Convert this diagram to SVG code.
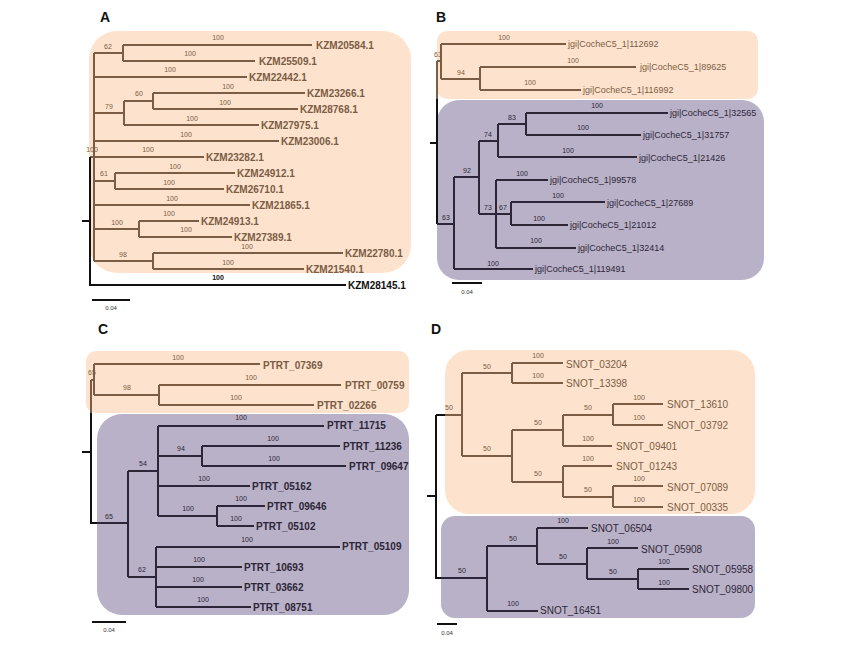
<svg xmlns="http://www.w3.org/2000/svg" width="850" height="655" viewBox="0 0 850 655">
<style>
text{font-family:"Liberation Sans",Arial,sans-serif}
.bo{fill:#fde3cd}
.pu{fill:#b9b1c7}
.lb{stroke:#7b5c45;stroke-width:2;fill:none}
.lp{stroke:#2d2638;stroke-width:2;fill:none}
.lk{stroke:#111;stroke-width:2;fill:none}
.bs{font-size:7px;text-anchor:middle}
.sb{fill:#7b5c45}
.sp{fill:#2d2638}
.sk{fill:#111}
.ta{font-size:10px;font-weight:bold}
.tb{font-size:9px}
.td{font-size:10px}
.pl{font-size:14px;font-weight:bold;fill:#111}
.sc{font-size:6px;fill:#333;text-anchor:middle}
</style>
<rect width="850" height="655" fill="#fff"/>
<g id="boxes">
<rect class="bo" x="89" y="31" width="322" height="242" rx="28"/>
<rect class="bo" x="437" y="31" width="321" height="68" rx="10"/>
<rect class="pu" x="437" y="100" width="327" height="180" rx="22"/>
<rect class="bo" x="86" y="351" width="323" height="62" rx="10"/>
<rect class="pu" x="97" y="414" width="312" height="201" rx="25"/>
<rect class="bo" x="445" y="350" width="310" height="164" rx="24"/>
<rect class="pu" x="441" y="516" width="314" height="102" rx="14"/>
</g>
<g id="panel-letters">
<text class="pl" x="100" y="22">A</text>
<text class="pl" x="436" y="22">B</text>
<text class="pl" x="98" y="334">C</text>
<text class="pl" x="431" y="334">D</text>
</g>
<g id="connectors">
<path class="lb" d="M94 53V261M94 53H123M123 45V61M123 45H312M123 61H255M94 77H247M94 113H124M124 101V125M124 101H153M153 93V109M153 93H305M153 109H298M124 125H259M94 141H279M90 157H204M94 181H115M115 173V189M115 173H235M115 189H224M94 205H250M94 229H139M139 221V237M139 221H199M139 237H232M94 261H153M153 253V269M153 253H343M153 269H304"/>
<path class="lk" d="M90 157V285H346M82 221H90"/>
<path class="lb" d="M437 61V99M437 61H441M441 44V79M441 44H566M441 79H480M480 67V90M480 67H636M480 90H581"/>
<path class="lk" d="M437 99V224M430 143H437"/>
<path class="lp" d="M437 224H454M454 177V269M454 177H479M454 269H533M479 141V214M479 141H498M479 214H496M498 124V157M498 124H526M498 157H637M526 113V135M526 113H668M526 135H641M496 180V248M496 180H548M496 214H511M511 202V225M511 202H605M511 225H568M496 248H576"/>
<path class="lb" d="M91 380V413M91 380H94M94 364V395M94 364H260M94 395H159M159 385V405M159 385H341M159 405H314"/>
<path class="lk" d="M91 413V523H97M82 452H91"/>
<path class="lp" d="M97 523H128M128 471V577M128 471H158M128 577H156M158 426V516M158 426H324M158 456H202M202 446V466M202 446H340M202 466H346M158 486H250M158 516H217M217 506V526M217 506H265M217 526H254M156 547V607M156 547H340M156 567H242M156 587H242M156 607H251"/>
<path class="lk" d="M436 415V578H441M427 496H436M436 415H445"/>
<path class="lb" d="M445 415H462M462 373V456M462 373H512M512 363V383M512 363H563M512 383H563M462 456H512M512 430V482M512 430H563M563 415V446M563 415H613M613 404V425M613 404H663M613 425H663M563 446H612M512 482H563M563 466V497M563 466H612M563 497H613M613 486V507M613 486H663M613 507H663"/>
<path class="lp" d="M441 578H487M487 546V611M487 546H537M537 528V564M537 528H588M537 564H587M587 548V579M587 548H638M587 579H638M638 569V589M638 569H689M638 589H689M487 611H538"/>
</g>
<g id="scale-bars">
<path class="lk" d="M92 300H130M452 283H482M92 622H126M437 624H457" stroke-width="1.5"/>
<text class="sc" x="111" y="310">0.04</text>
<text class="sc" x="467" y="294">0.04</text>
<text class="sc" x="109" y="632">0.04</text>
<text class="sc" x="447" y="635">0.04</text>
</g>
<g id="bootstrap-A" class="bs sb">
<text x="108" y="48.5">62</text><text x="218" y="39.5">100</text><text x="190" y="55.5">100</text><text x="170" y="71.5">100</text>
<text x="109" y="108.5">79</text><text x="139" y="95.5">60</text><text x="228" y="88.5">100</text><text x="225" y="104.5">100</text>
<text x="192" y="120.5">100</text><text x="186" y="136.5">100</text><text x="148" y="151.5">100</text><text x="92" y="151.5">100</text>
<text x="175" y="168.5">100</text><text x="104" y="175.5">61</text><text x="169" y="184.5">100</text><text x="172" y="200.5">100</text>
<text x="117" y="224.5">100</text><text x="169" y="215.5">100</text><text x="186" y="231.5">100</text><text x="123" y="256.5">98</text>
<text x="247" y="248.5">100</text><text x="228" y="264.5">100</text>
</g>
<text class="bs sk" x="218" y="279.5" font-weight="bold">100</text>
<g id="bootstrap-B" class="bs">
<g class="sb"><text x="504" y="39.5">100</text><text x="438" y="56.5">63</text><text x="461" y="74.5">94</text><text x="573" y="62.5">100</text><text x="530" y="84.5">100</text></g>
<g class="sp"><text x="597" y="107.5">100</text><text x="512" y="119.5">83</text><text x="583" y="129.5">100</text><text x="488" y="136.5">74</text>
<text x="568" y="152.5">100</text><text x="467" y="172.5">92</text><text x="522" y="175.5">100</text><text x="558" y="197.5">100</text>
<text x="488" y="209.5">73</text><text x="503" y="209.5">67</text><text x="539" y="220.5">100</text><text x="446" y="219.5">63</text>
<text x="536" y="242.5">100</text><text x="493" y="265.5">100</text></g>
</g>
<g id="bootstrap-C" class="bs">
<g class="sb"><text x="178" y="359.5">100</text><text x="92" y="374.5">65</text><text x="127" y="389.5">98</text><text x="251" y="379.5">100</text><text x="236" y="399.5">100</text></g>
<g class="sp"><text x="241" y="419.5">100</text><text x="143" y="465.5">54</text><text x="181" y="450.5">94</text><text x="273" y="440.5">100</text>
<text x="274" y="460.5">100</text><text x="204" y="480.5">100</text><text x="188" y="510.5">100</text><text x="241" y="500.5">100</text>
<text x="236" y="520.5">100</text><text x="109" y="518.5">65</text><text x="247" y="541.5">100</text><text x="142" y="571.5">62</text>
<text x="199" y="561.5">100</text><text x="198" y="581.5">100</text><text x="203" y="601.5">100</text></g>
</g>
<g id="bootstrap-D" class="bs">
<g class="sb"><text x="449" y="409.5">50</text><text x="487" y="368.5">50</text><text x="538" y="357.5">100</text><text x="538" y="377.5">100</text>
<text x="487" y="450.5">50</text><text x="538" y="424.5">50</text><text x="588" y="409.5">50</text><text x="639" y="399.5">100</text>
<text x="639" y="419.5">100</text><text x="588" y="440.5">100</text><text x="588" y="460.5">100</text><text x="538" y="475.5">50</text>
<text x="588" y="491.5">50</text><text x="639" y="480.5">100</text><text x="639" y="501.5">100</text></g>
<g class="sp"><text x="462" y="572.5">50</text><text x="513" y="540.5">50</text><text x="563" y="522.5">100</text><text x="563" y="558.5">50</text>
<text x="613" y="543.5">100</text><text x="613" y="573.5">50</text><text x="664" y="563.5">100</text><text x="664" y="584.5">100</text>
<text x="513" y="605.5">100</text></g>
</g>
<g id="tips-A" class="ta sb">
<g id="KZM20584"><text x="316" y="48.6">KZM20584.1</text></g>
<g id="KZM25509"><text x="259" y="64.6">KZM25509.1</text></g>
<g id="KZM22442"><text x="249" y="80.6">KZM22442.1</text></g>
<g id="KZM23266"><text x="307" y="96.6">KZM23266.1</text></g>
<g id="KZM28768"><text x="300" y="112.6">KZM28768.1</text></g>
<g id="KZM27975"><text x="261" y="128.6">KZM27975.1</text></g>
<g id="KZM23006"><text x="281" y="144.6">KZM23006.1</text></g>
<g id="KZM23282"><text x="206" y="160.6">KZM23282.1</text></g>
<g id="KZM24912"><text x="237" y="176.6">KZM24912.1</text></g>
<g id="KZM26710"><text x="226" y="192.6">KZM26710.1</text></g>
<g id="KZM21865"><text x="252" y="208.6">KZM21865.1</text></g>
<g id="KZM24913"><text x="201" y="224.6">KZM24913.1</text></g>
<g id="KZM27389"><text x="234" y="240.6">KZM27389.1</text></g>
<g id="KZM22780"><text x="345" y="256.6">KZM22780.1</text></g>
<g id="KZM21540"><text x="306" y="272.6">KZM21540.1</text></g>
</g>
<g id="KZM28145" class="ta sk"><text x="348" y="288.6">KZM28145.1</text></g>
<g id="tips-B" class="tb">
<g id="B112692" class="sb"><text x="568" y="47.2">jgi|CocheC5_1|112692</text></g>
<g id="B89625" class="sb"><text x="640" y="70.2">jgi|CocheC5_1|89625</text></g>
<g id="B116992" class="sb"><text x="583" y="93.2">jgi|CocheC5_1|116992</text></g>
<g id="B32565" class="sp"><text x="670" y="116.2">jgi|CocheC5_1|32565</text></g>
<g id="B31757" class="sp"><text x="643" y="138.2">jgi|CocheC5_1|31757</text></g>
<g id="B21426" class="sp"><text x="639" y="161.2">jgi|CocheC5_1|21426</text></g>
<g id="B99578" class="sp"><text x="550" y="183.2">jgi|CocheC5_1|99578</text></g>
<g id="B27689" class="sp"><text x="607" y="206.2">jgi|CocheC5_1|27689</text></g>
<g id="B21012" class="sp"><text x="570" y="228.2">jgi|CocheC5_1|21012</text></g>
<g id="B32414" class="sp"><text x="578" y="251.2">jgi|CocheC5_1|32414</text></g>
<g id="B119491" class="sp"><text x="535" y="272.2">jgi|CocheC5_1|119491</text></g>
</g>
<g id="tips-C" class="ta">
<g id="PTRT_07369" class="sb"><text x="263" y="368.6">PTRT_07369</text></g>
<g id="PTRT_00759" class="sb"><text x="345" y="388.6">PTRT_00759</text></g>
<g id="PTRT_02266" class="sb"><text x="317" y="408.6">PTRT_02266</text></g>
<g id="PTRT_11715" class="sp"><text x="327" y="428.6">PTRT_11715</text></g>
<g id="PTRT_11236" class="sp"><text x="343" y="449.6">PTRT_11236</text></g>
<g id="PTRT_09647" class="sp"><text x="349" y="469.6">PTRT_09647</text></g>
<g id="PTRT_05162" class="sp"><text x="252" y="489.6">PTRT_05162</text></g>
<g id="PTRT_09646" class="sp"><text x="267" y="509.6">PTRT_09646</text></g>
<g id="PTRT_05102" class="sp"><text x="256" y="529.6">PTRT_05102</text></g>
<g id="PTRT_05109" class="sp"><text x="342" y="549.6">PTRT_05109</text></g>
<g id="PTRT_10693" class="sp"><text x="244" y="570.6">PTRT_10693</text></g>
<g id="PTRT_03662" class="sp"><text x="244" y="590.6">PTRT_03662</text></g>
<g id="PTRT_08751" class="sp"><text x="253" y="610.6">PTRT_08751</text></g>
</g>
<g id="tips-D" class="td">
<g id="SNOT_03204" class="sb"><text x="566" y="367.6">SNOT_03204</text></g>
<g id="SNOT_13398" class="sb"><text x="566" y="386.6">SNOT_13398</text></g>
<g id="SNOT_13610" class="sb"><text x="667" y="407.6">SNOT_13610</text></g>
<g id="SNOT_03792" class="sb"><text x="667" y="428.6">SNOT_03792</text></g>
<g id="SNOT_09401" class="sb"><text x="616" y="449.6">SNOT_09401</text></g>
<g id="SNOT_01243" class="sb"><text x="616" y="469.6">SNOT_01243</text></g>
<g id="SNOT_07089" class="sb"><text x="667" y="490.6">SNOT_07089</text></g>
<g id="SNOT_00335" class="sb"><text x="667" y="510.6">SNOT_00335</text></g>
<g id="SNOT_06504" class="sp"><text x="591" y="531.6">SNOT_06504</text></g>
<g id="SNOT_05908" class="sp"><text x="641" y="552.6">SNOT_05908</text></g>
<g id="SNOT_05958" class="sp"><text x="692" y="572.6">SNOT_05958</text></g>
<g id="SNOT_09800" class="sp"><text x="692" y="592.6">SNOT_09800</text></g>
<g id="SNOT_16451" class="sp"><text x="540" y="613.6">SNOT_16451</text></g>
</g>
</svg>
